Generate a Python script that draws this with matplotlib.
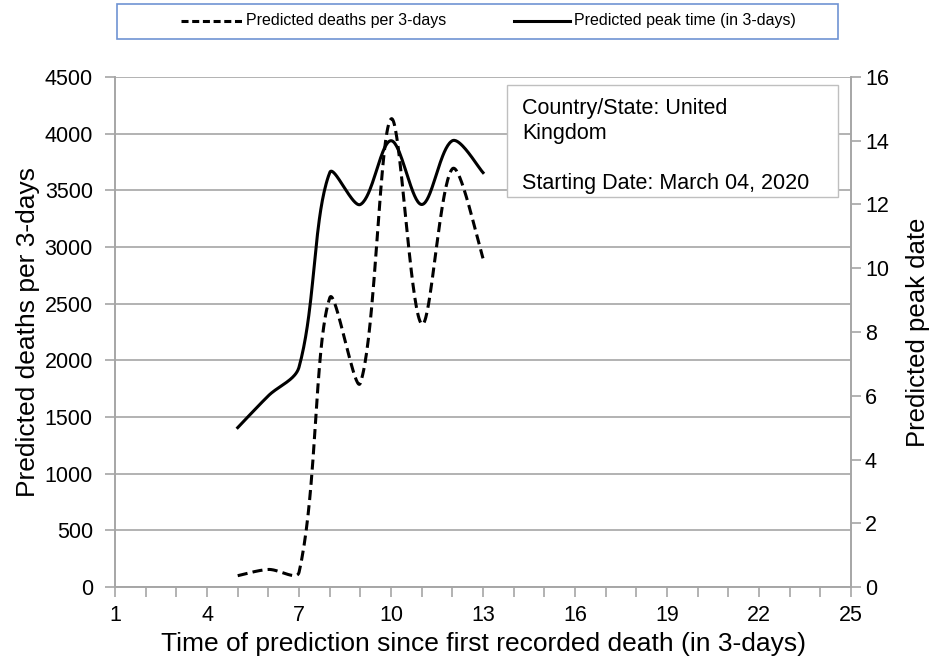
import matplotlib
matplotlib.use('Agg')
import matplotlib.pyplot as plt
import numpy as np
from matplotlib.lines import Line2D
from matplotlib.patches import Rectangle

plt.rcParams['font.family'] = ['Liberation Sans', 'DejaVu Sans']

############################ 数据 ##################################
times = [5, 6, 7, 8, 9, 10, 11, 12, 13]
deaths = [100, 155, 130, 2550, 1800, 4130, 2320, 3690, 2900]   # 虚线, 左轴
peak = [5, 6, 6.9, 13, 12, 14, 12, 14, 13]                      # 实线, 右轴

country_text = 'Country/State: United\nKingdom\n\nStarting Date: March 04, 2020'
legend_labels = ['Predicted deaths per 3-days', 'Predicted peak time (in 3-days)']

X_LIM = (1, 25)
Y1_LIM = (0, 4500)
Y2_LIM = (0, 16)
AX_RECT = [0.1237, 0.1146, 0.7914, 0.7693]
FIG_W, FIG_H = 930, 663


def excel_smooth(x, y, ylim, n=40):
    """模仿 Excel 平滑线: Bezier 曲线, 切线长度按相邻线段像素长度加权"""
    x = np.asarray(x, float)
    y = np.asarray(y, float)
    # 像素比例, 用于计算线段长度
    sx = AX_RECT[2] * FIG_W / (X_LIM[1] - X_LIM[0])
    sy = AX_RECT[3] * FIG_H / (ylim[1] - ylim[0])
    P = np.column_stack([x, y])
    m = len(P)
    d = np.hypot(np.diff(x) * sx, np.diff(y) * sy)
    fwd = np.zeros_like(P)
    bwd = np.zeros_like(P)
    for i in range(m):
        if i == 0:
            fwd[i] = P[i] + (P[1] - P[0]) / 6
            continue
        if i == m - 1:
            bwd[i] = P[i] - (P[i] - P[i - 1]) / 6
            continue
        T = P[i + 1] - P[i - 1]
        dl, dr = d[i - 1], d[i]
        fwd[i] = P[i] + T * dr / (dl + dr) / 3
        bwd[i] = P[i] - T * dl / (dl + dr) / 3
    t = np.linspace(0, 1, n)[:, None]
    xs, ys = [], []
    for i in range(m - 1):
        b = (1 - t) ** 3 * P[i] + 3 * (1 - t) ** 2 * t * fwd[i] \
            + 3 * (1 - t) * t ** 2 * bwd[i + 1] + t ** 3 * P[i + 1]
        xs.extend(b[:, 0])
        ys.extend(b[:, 1])
    return np.array(xs), np.array(ys)


fig = plt.figure(figsize=(9.3, 6.63), dpi=100)
ax = fig.add_axes(AX_RECT)
ax2 = ax.twinx()

grid_c = '#A6A6A6'

sx_, sy_ = excel_smooth(times, deaths, Y1_LIM)
ax.plot(sx_, sy_, color='black', linewidth=2.2, linestyle=(0, (3.3, 1.7)))
px_, py_ = excel_smooth(times, peak, Y2_LIM)
ax2.plot(px_, py_, color='black', linewidth=2.2)

# 左轴
ax.set_xlim(*X_LIM)
ax.set_ylim(*Y1_LIM)
ax.set_yticks(np.arange(0, 4501, 500))
ax.set_xticks(np.arange(1, 26, 3))
ax.set_xticks(np.arange(1, 26, 1), minor=True)
ax.yaxis.grid(True, color=grid_c, linewidth=1.2)
ax.set_axisbelow(True)
ax.tick_params(axis='y', labelsize=15.5, length=7, color=grid_c, width=1.2, pad=9, direction='out')
ax.tick_params(axis='x', which='both', labelsize=15.5, length=7, color=grid_c, width=1.2, pad=6, direction='out')
ax.set_ylabel('Predicted deaths per 3-days', fontsize=19, labelpad=3)
ax.set_xlabel('Time of prediction since first recorded death (in 3-days)', fontsize=19, labelpad=4)

# 右轴
ax2.set_ylim(*Y2_LIM)
ax2.set_yticks(np.arange(0, 17, 2))
ax2.tick_params(axis='y', labelsize=15.5, length=7, color=grid_c, width=1.2, pad=3)
ax2.set_ylabel('Predicted peak date', fontsize=18.5, labelpad=12)

for a in (ax, ax2):
    a.spines['top'].set_visible(False)
    for s in ('left', 'right', 'bottom'):
        a.spines[s].set_color(grid_c)
        a.spines[s].set_linewidth(1.2)

# 文本框
ax2.add_patch(Rectangle((0.5326, 0.765), 0.4497, 0.219, transform=ax.transAxes,
                        facecolor='white', edgecolor='#BFBFBF', linewidth=1.0, zorder=5))
ax2.text(0.553, 0.958, country_text, transform=ax.transAxes, fontsize=15.5,
         va='top', ha='left', linespacing=1.25, zorder=6)

# 图例 (手动绘制)
fig.add_artist(Rectangle((117 / FIG_W, 1 - 39 / FIG_H), 721 / FIG_W, 35 / FIG_H,
                         transform=fig.transFigure, facecolor='white',
                         edgecolor='#6F93D3', linewidth=1.2))
ly = 1 - 21 / FIG_H
fig.add_artist(Line2D([181 / FIG_W, 243 / FIG_W], [ly, ly], color='black',
                      linewidth=2.2, linestyle=(0, (2.3, 1.2))))
fig.text(246 / FIG_W, ly, legend_labels[0], fontsize=11.5, va='center', ha='left')
fig.add_artist(Line2D([514 / FIG_W, 570 / FIG_W], [ly, ly], color='black', linewidth=2.2))
fig.text(574 / FIG_W, ly, legend_labels[1], fontsize=11.5, va='center', ha='left')

fig.savefig('out.png', dpi=100)
